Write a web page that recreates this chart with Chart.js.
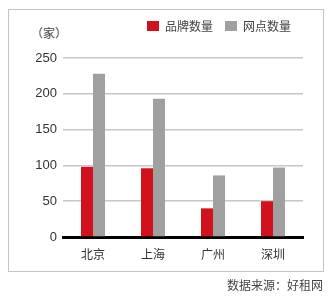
<!DOCTYPE html>
<html>
<head>
<meta charset="utf-8">
<script src="https://cdn.jsdelivr.net/npm/chart.js@4.4.1/dist/chart.umd.min.js"></script>
<style>
  html, body { margin: 0; padding: 0; background: #fff; }
  #wrap { position: relative; width: 330px; height: 298px; }
  #frame { position: absolute; left: 8px; top: 9px; width: 314px; height: 261px; border: 1px solid #c4c4c4; }
  #unit { position: absolute; left: 31px; top: 24px; font: 12px "Noto Sans CJK SC", sans-serif; color: #444; }
  #source { position: absolute; right: 7px; top: 276px; font: 12px "Noto Sans CJK SC", sans-serif; color: #444; }
  canvas { position: absolute; left: 0; top: 0; }
</style>
</head>
<body>
<div id="wrap">
  <div id="frame"></div>
  <div id="unit">（家）</div>
  <canvas id="chart" width="330" height="298"></canvas>
  <div id="source">数据来源：好租网</div>
</div>
<script>
const cities = ['北京', '上海', '广州', '深圳'];
const brandCount = [98, 96, 40, 50];
const outletCount = [228, 193, 86, 97];
const yTicks = [0, 50, 100, 150, 200, 250];

const font = '"Liberation Sans", "Noto Sans CJK SC", sans-serif';

// push the plot down below the legend
const legendGap = {
    id: 'legendGap',
    beforeInit(chart) {
        const fit = chart.legend.fit;
        chart.legend.fit = function () {
            fit.bind(chart.legend)();
            this.height += 16;
        };
    }
};

const config = {
    type: 'bar',
    data: {
        labels: cities,
        datasets: [{
            label: '品牌数量',
            data: brandCount,
            backgroundColor: '#d1121c',
            barPercentage: 1,
            categoryPercentage: 0.4
        }, {
            label: '网点数量',
            data: outletCount,
            backgroundColor: '#a0a0a0',
            barPercentage: 1,
            categoryPercentage: 0.4
        }]
    },
    options: {
        responsive: false,
        animation: false,
        layout: { padding: { left: 0, right: 27, top: 8, bottom: 31 } },
        plugins: {
            tooltip: { enabled: false },
            legend: {
                position: 'top',
                align: 'end',
                labels: {
                    boxWidth: 12,
                    boxHeight: 10,
                    padding: 12,
                    color: '#444',
                    font: { family: '"Noto Sans CJK SC", sans-serif', size: 12 }
                }
            }
        },
        scales: {
            x: {
                grid: { display: false },
                border: { display: true, color: '#000', width: 3 },
                ticks: { color: '#333', padding: 2, font: { family: '"Noto Sans CJK SC", sans-serif', size: 12 } },
                afterFit: function (scale) { scale.height = 30; }
            },
            y: {
                min: yTicks[0],
                max: yTicks[yTicks.length - 1],
                grid: { color: '#c8c8c8', lineWidth: 1.5, drawTicks: false },
                border: { display: false },
                ticks: {
                    stepSize: 50,
                    padding: 6,
                    color: '#333',
                    font: { family: font, size: 13 }
                },
                afterFit: function (scale) { scale.width = 63; }
            }
        }
    },
    plugins: [legendGap]
};

new Chart(document.getElementById('chart').getContext('2d'), config);
</script>
</body>
</html>
